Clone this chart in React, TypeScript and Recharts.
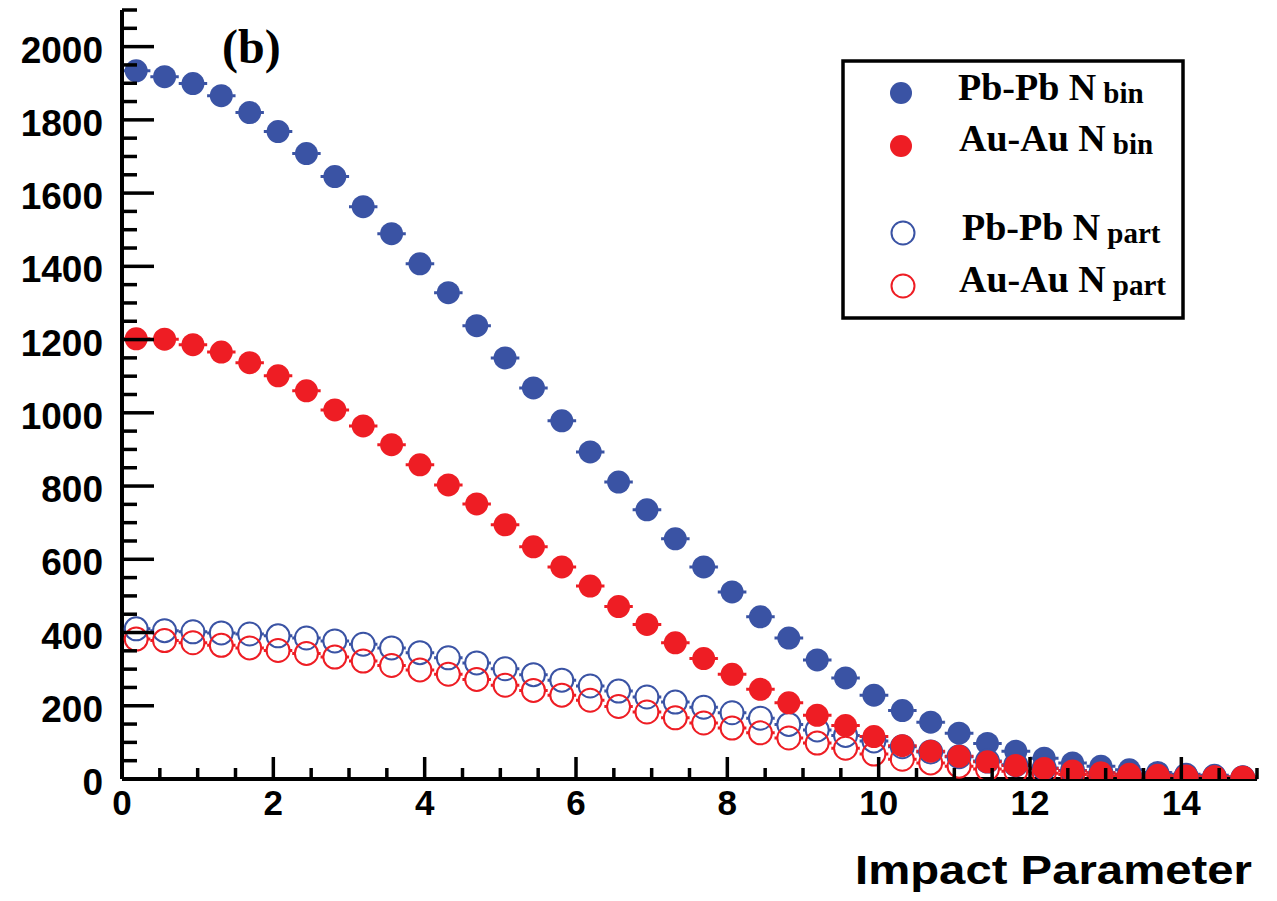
import React from "react";
import {
  ScatterChart,
  Scatter,
  XAxis,
  YAxis,
  ErrorBar,
  Customized,
} from "recharts";

// impact parameter bins (centres), width 0.375
const binCenters = [
  0.1875, 0.5625, 0.9375, 1.3125, 1.6875, 2.0625, 2.4375, 2.8125, 3.1875, 3.5625,
  3.9375, 4.3125, 4.6875, 5.0625, 5.4375, 5.8125, 6.1875, 6.5625, 6.9375, 7.3125,
  7.6875, 8.0625, 8.4375, 8.8125, 9.1875, 9.5625, 9.9375, 10.3125, 10.6875, 11.0625,
  11.4375, 11.8125, 12.1875, 12.5625, 12.9375, 13.3125, 13.6875, 14.0625, 14.4375, 14.8125,
];
const binHalfWidth = 0.1875;

const pbNbin = [
  1934, 1918, 1899, 1866, 1820, 1768, 1708, 1645, 1563, 1489,
  1407, 1328, 1238, 1150, 1068, 978, 893, 811, 735, 656,
  579, 511, 443, 385, 325, 276, 229, 187, 155, 125,
  97, 76, 57, 44, 35, 25, 18, 13, 10, 6,
];
const auNbin = [
  1202, 1201, 1186, 1166, 1137, 1101, 1060, 1008, 964, 913,
  858, 803, 751, 694, 634, 579, 527, 471, 422, 372,
  329, 286, 245, 208, 174, 146, 116, 91, 76, 62,
  47, 37, 29, 22, 17, 13, 10, 8, 6, 5,
];
const pbNpart = [
  410, 405, 402, 399, 396, 391, 385, 377, 368, 358,
  345, 331, 317, 301, 285, 270, 254, 240, 224, 210,
  196, 181, 166, 149, 134, 119, 104, 88, 74, 61,
  49, 39, 30, 23, 17, 13, 9, 7, 5, 3,
];
const auNpart = [
  382, 378, 372, 365, 358, 351, 343, 333, 322, 310,
  298, 286, 272, 256, 242, 229, 215, 198, 183, 167,
  153, 139, 126, 112, 98, 84, 68, 54, 44, 35,
  27, 21, 16, 12, 9, 7, 5, 4, 3, 2,
];

const xLabels = [0, 2, 4, 6, 8, 10, 12, 14];
const yLabels = [0, 200, 400, 600, 800, 1000, 1200, 1400, 1600, 1800, 2000];

const BLUE = "#3a53a4";
const RED = "#ee1d24";
const SANS = "'Liberation Sans', Arial, Helvetica, sans-serif";
const SERIF = "'Liberation Serif', 'Times New Roman', serif";

// bar spans ~28.4px; only the stubs outside the marker are drawn
const ERR_DASH = "3.4 21.6 3.4";

// minor ticks every 0.5 in x and every 50 in y
const xTicks = Array.from({ length: 31 }, (_, i) => i * 0.5);
const yTicks = Array.from({ length: 43 }, (_, i) => i * 50);

const toPoints = (values: number[]) =>
  binCenters.map((b, i) => ({ b, n: values[i], xErr: binHalfWidth }));

const isLabelled = (v: number, list: number[]) =>
  list.some((l) => Math.abs(l - v) < 1e-6);

const BottomTick = ({ x, y, payload }: any) => {
  const major = Math.abs(payload.value % 2) < 1e-6;
  return (
    <g>
      <line x1={x} x2={x} y1={y} y2={y - (major ? 22 : 11)} stroke="#000" strokeWidth={3.5} />
      {isLabelled(payload.value, xLabels) && (
        <text
          x={x}
          y={y + 36}
          textAnchor="middle"
          fontSize={35}
          fontWeight="bold"
          fontFamily={SANS}
          fill="#000"
        >
          {payload.value}
        </text>
      )}
    </g>
  );
};

const TopTick = ({ x, y, payload }: any) => {
  const major = Math.abs(payload.value % 2) < 1e-6;
  return <line x1={x} x2={x} y1={y} y2={y + (major ? 23 : 12)} stroke="#000" strokeWidth={3.5} />;
};

const LeftTick = ({ x, y, payload }: any) => {
  const major = payload.value % 200 === 0;
  return (
    <g>
      <line x1={x} x2={x + (major ? 32 : 15)} y1={y} y2={y} stroke="#000" strokeWidth={3.5} />
      {isLabelled(payload.value, yLabels) && (
        <text
          x={x - 19}
          y={y + 16}
          textAnchor="end"
          fontSize={37}
          fontWeight="bold"
          fontFamily={SANS}
          fill="#000"
        >
          {payload.value}
        </text>
      )}
    </g>
  );
};

const RightTick = ({ x, y, payload }: any) => {
  const major = payload.value % 200 === 0;
  return <line x1={x} x2={x - (major ? 32 : 15)} y1={y} y2={y} stroke="#000" strokeWidth={3.5} />;
};

const filledDot = (color: string) => (props: any) =>
  <circle cx={props.cx} cy={props.cy} r={11.5} fill={color} />;

const openDot = (color: string) => (props: any) =>
  <circle cx={props.cx} cy={props.cy} r={11.5} fill="none" stroke={color} strokeWidth={2} />;

const legendRows = [
  { label: "Pb-Pb N", sub: "bin", color: BLUE, filled: true, cy: 93, tx: 958, ty: 100 },
  { label: "Au-Au N", sub: "bin", color: RED, filled: true, cy: 146, tx: 959, ty: 151 },
  { label: "Pb-Pb N", sub: "part", color: BLUE, filled: false, cy: 233, tx: 962, ty: 240 },
  { label: "Au-Au N", sub: "part", color: RED, filled: false, cy: 286, tx: 959, ty: 292 },
];

const Decorations = () => (
  <g>
    <text x={222} y={63} fontSize={48} fontWeight="bold" fontFamily={SERIF} fill="#000">
      (b)
    </text>
    <rect x={843} y={61} width={340} height={257} fill="#fff" stroke="#000" strokeWidth={3.5} />
    {legendRows.map((r) => (
      <g key={r.label + r.sub}>
        {r.filled ? (
          <circle cx={901} cy={r.cy} r={11} fill={r.color} />
        ) : (
          <circle cx={903} cy={r.cy} r={11.5} fill="none" stroke={r.color} strokeWidth={2} />
        )}
        <text x={r.tx} y={r.ty} fontSize={38} fontWeight="bold" fontFamily={SERIF} fill="#000">
          {r.label}
          <tspan dx={7} dy={3} fontSize={29}>
            {r.sub}
          </tspan>
        </text>
      </g>
    ))}
  </g>
);

export default function App() {
  return (
    <div style={{ position: "absolute", left: 0, top: 0, background: "#fff" }}>
      <ScatterChart
        width={1277}
        height={901}
        margin={{ top: 10, right: 20, bottom: 0, left: 0 }}
      >
        <XAxis
          xAxisId="bottom"
          dataKey="b"
          type="number"
          domain={[0, 15]}
          allowDataOverflow
          ticks={xTicks}
          interval={0}
          height={122}
          tickSize={0}
          tickMargin={0}
          tickLine={false}
          tick={<BottomTick />}
          axisLine={{ stroke: "#000", strokeWidth: 4 }}
          label={{
            content: (props: any) => {
              const vb = props.viewBox;
              return (
                <text
                  x={vb.x + vb.width - 5}
                  y={884}
                  textAnchor="end"
                  fontSize={41}
                  fontWeight="bold"
                  fontFamily={SANS}
                  textLength={397}
                  lengthAdjust="spacingAndGlyphs"
                  fill="#000"
                >
                  Impact Parameter
                </text>
              );
            },
          }}
        />
        <XAxis
          xAxisId="top"
          orientation="top"
          type="number"
          domain={[0, 15]}
          allowDataOverflow
          ticks={xTicks}
          interval={0}
          height={0}
          tickSize={0}
          tickMargin={0}
          tickLine={false}
          tick={<TopTick />}
          axisLine={{ stroke: "#000", strokeWidth: 4 }}
        />
        <YAxis
          yAxisId="left"
          dataKey="n"
          type="number"
          domain={[0, 2100]}
          allowDataOverflow
          ticks={yTicks}
          interval={0}
          width={122}
          tickSize={0}
          tickMargin={0}
          tickLine={false}
          tick={<LeftTick />}
          axisLine={{ stroke: "#000", strokeWidth: 4 }}
        />
        <YAxis
          yAxisId="right"
          orientation="right"
          type="number"
          domain={[0, 2100]}
          allowDataOverflow
          ticks={yTicks}
          interval={0}
          width={0}
          tickSize={0}
          tickMargin={0}
          tickLine={false}
          tick={<RightTick />}
          axisLine={{ stroke: "#000", strokeWidth: 4 }}
        />
        <Scatter
          name="Pb-Pb Nbin"
          data={toPoints(pbNbin)}
          xAxisId="bottom"
          yAxisId="left"
          shape={filledDot(BLUE)}
          isAnimationActive={false}
        >
          <ErrorBar dataKey="xErr" direction="x" width={0} stroke={BLUE} strokeWidth={3} strokeDasharray={ERR_DASH} />
        </Scatter>
        <Scatter
          name="Pb-Pb Npart"
          data={toPoints(pbNpart)}
          xAxisId="bottom"
          yAxisId="left"
          shape={openDot(BLUE)}
          isAnimationActive={false}
        >
          <ErrorBar dataKey="xErr" direction="x" width={0} stroke={BLUE} strokeWidth={3} strokeDasharray={ERR_DASH} />
        </Scatter>
        <Scatter
          name="Au-Au Npart"
          data={toPoints(auNpart)}
          xAxisId="bottom"
          yAxisId="left"
          shape={openDot(RED)}
          isAnimationActive={false}
        >
          <ErrorBar dataKey="xErr" direction="x" width={0} stroke={RED} strokeWidth={3} strokeDasharray={ERR_DASH} />
        </Scatter>
        <Scatter
          name="Au-Au Nbin"
          data={toPoints(auNbin)}
          xAxisId="bottom"
          yAxisId="left"
          shape={filledDot(RED)}
          isAnimationActive={false}
        >
          <ErrorBar dataKey="xErr" direction="x" width={0} stroke={RED} strokeWidth={3} strokeDasharray={ERR_DASH} />
        </Scatter>
        <Customized component={<Decorations />} />
      </ScatterChart>
    </div>
  );
}
